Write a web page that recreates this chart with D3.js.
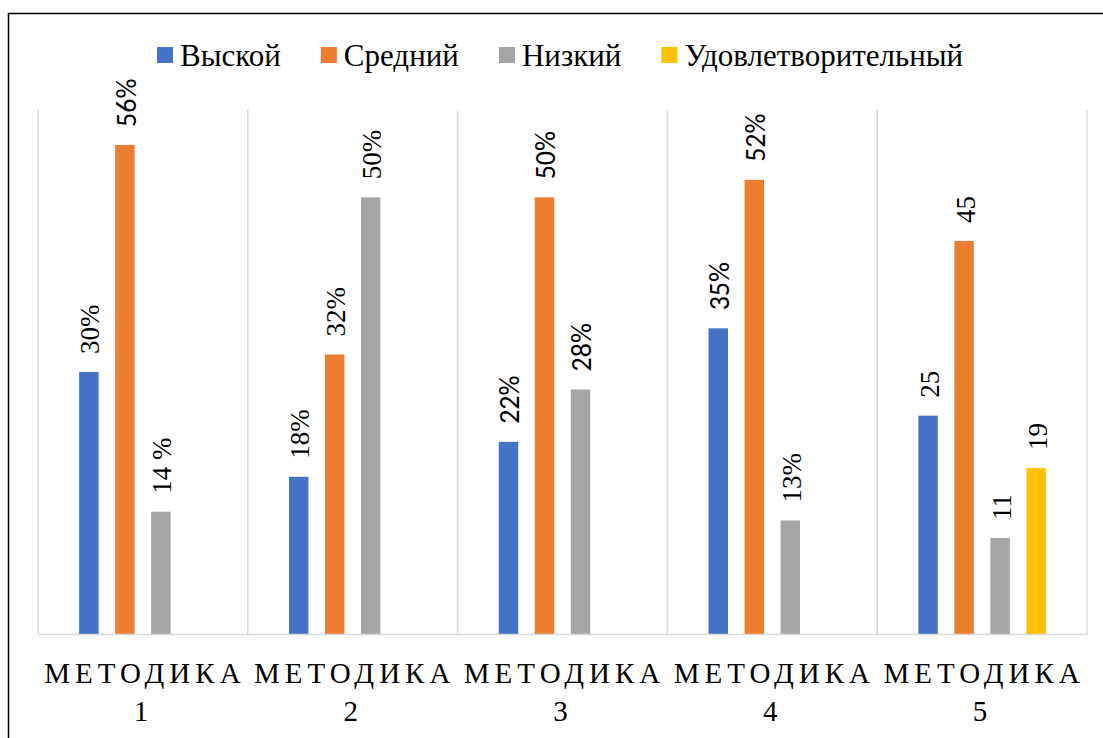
<!DOCTYPE html>
<html>
<head>
<meta charset="utf-8">
<script src="https://cdn.jsdelivr.net/npm/d3@7"></script>
<style>
  body { margin: 0; background: #fff; }
  text { fill: #000; }
  .serif { font-family: 'Times New Roman', Tinos, 'Liberation Serif', 'Noto Serif', 'DejaVu Serif', serif; }
  .sans { font-family: Carlito, Calibri, 'Open Sans', sans-serif; }
</style>
</head>
<body>
<div id="chart"></div>
<script>
const categories = ['МЕТОДИКА 1', 'МЕТОДИКА 2', 'МЕТОДИКА 3', 'МЕТОДИКА 4', 'МЕТОДИКА 5'];
const seriesNames = ['Выской', 'Средний', 'Низкий', 'Удовлетворительный'];

const highValues = [30, 18, 22, 35, 25];
const midValues = [56, 32, 50, 52, 45];
const lowValues = [14, 50, 28, 13, 11];
const okValues = [null, null, null, null, 19];

const highLabels = ['30%', '18%', '22%', '35%', '25'];
const midLabels = ['56%', '32%', '50%', '52%', '45'];
const lowLabels = ['14 %', '50%', '28%', '13%', '11'];
const okLabels = ['', '', '', '', '19'];

const colors = ['#4472C4', '#ED7D31', '#A5A5A5', '#FFC000'];

// labels that were typed in a different font in the original
const sansLabels = [[1, 0], [0, 2], [1, 2], [2, 2], [0, 3], [1, 3]];

const seriesValues = [highValues, midValues, lowValues, okValues];
const seriesLabels = [highLabels, midLabels, lowLabels, okLabels];

const W = 1103, H = 738;
const margin = { top: 110, left: 38, right: 16, bottom: 104 };

const svg = d3.select('#chart')
  .append('svg')
  .attr('width', W)
  .attr('height', H);

// outer frame
svg.append('rect')
  .attr('x', 8.5).attr('y', 13.5)
  .attr('width', 1120).attr('height', 760)
  .attr('fill', 'none')
  .attr('stroke', '#000')
  .attr('stroke-width', 1.5);

const x0 = d3.scaleBand()
  .domain(categories)
  .range([margin.left, W - margin.right])
  .padding(0);

const x1 = d3.scaleBand()
  .domain(d3.range(seriesNames.length))
  .range([x0.bandwidth() / 2 - 63.75, x0.bandwidth() / 2 + 63.75])
  .paddingInner(0.46)
  .paddingOuter(0);

const y = d3.scaleLinear()
  .domain([0, 60])
  .range([H - margin.bottom, margin.top]);

// category separators
const edges = categories.map(c => x0(c)).concat([x0.range()[1]]);
svg.append('g')
  .selectAll('line')
  .data(edges)
  .enter().append('line')
  .attr('x1', d => d).attr('x2', d => d)
  .attr('y1', y(60)).attr('y2', y(0))
  .attr('stroke', '#d9d9d9')
  .attr('stroke-width', 1.5);

// bars
const rows = [];
seriesValues.forEach(function (vals, s) {
  vals.forEach(function (v, c) {
    if (v !== null) rows.push({ s: s, c: c, v: v, label: seriesLabels[s][c] });
  });
});

svg.append('g')
  .selectAll('rect')
  .data(rows)
  .enter().append('rect')
  .attr('x', d => x0(categories[d.c]) + x1(d.s))
  .attr('y', d => y(d.v))
  .attr('width', x1.bandwidth())
  .attr('height', d => y(0) - y(d.v))
  .attr('fill', d => colors[d.s]);

// value labels, rotated
function isSans(d) {
  return sansLabels.some(p => p[0] === d.s && p[1] === d.c);
}

svg.append('g')
  .selectAll('text')
  .data(rows)
  .enter().append('text')
  .attr('class', d => isSans(d) ? 'sans' : 'serif')
  .attr('transform', function (d) {
    const cx = x0(categories[d.c]) + x1(d.s) + x1.bandwidth() / 2 + 1;
    return 'translate(' + cx + ',' + (y(d.v) - 18) + ') rotate(-90)';
  })
  .attr('dy', '0.35em')
  .attr('text-anchor', 'start')
  .attr('font-size', d => isSans(d) ? 28 : 27)
  .text(d => d.label);

// x axis
const xAxis = svg.append('g')
  .attr('transform', 'translate(0,' + y(0) + ')')
  .call(d3.axisBottom(x0).tickSize(0).tickPadding(0));

xAxis.attr('font-family', null).attr('font-size', null);

xAxis.select('.domain')
  .attr('stroke', '#d9d9d9')
  .attr('stroke-width', 1.5);

xAxis.selectAll('.tick text').each(function (d) {
  const parts = d.split(' ');
  const t = d3.select(this)
    .text(null)
    .attr('y', null)
    .attr('dy', null)
    .attr('class', 'serif')
    .attr('fill', '#000')
    .attr('font-size', 29);
  t.append('tspan')
    .attr('x', 2).attr('y', 49)
    .style('letter-spacing', '5px')
    .text(parts[0]);
  t.append('tspan')
    .attr('x', -2).attr('y', 87)
    .text(parts[1]);
});

// legend
const legend = svg.append('g')
  .attr('class', 'legend serif')
  .attr('font-size', 31);

let lx = 157;
seriesNames.forEach(function (name, i) {
  const item = legend.append('g').attr('transform', 'translate(' + lx + ',0)');
  item.append('rect')
    .attr('x', 0).attr('y', 47)
    .attr('width', 16).attr('height', 16)
    .attr('fill', colors[i]);
  const t = item.append('text')
    .attr('x', 23).attr('y', 66)
    .text(name);
  lx += 23 + t.node().getComputedTextLength() + 40;
});
</script>
</body>
</html>
